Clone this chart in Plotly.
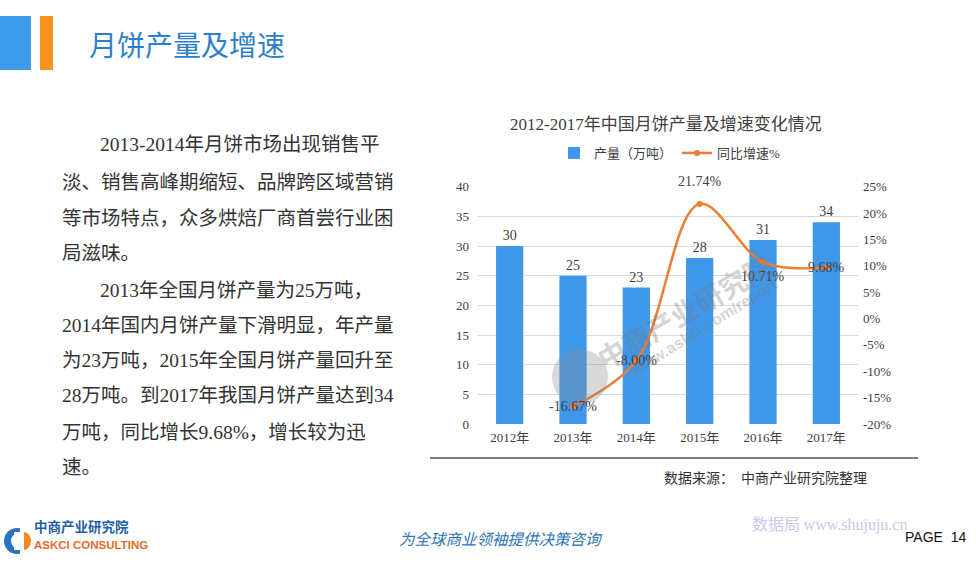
import plotly.graph_objects as go

# ---------------- data ----------------
years = ["2012年", "2013年", "2014年", "2015年", "2016年", "2017年"]
output = [30, 25, 23, 28, 31, 34]                 # 产量（万吨）
growth_years = ["2013年", "2014年", "2015年", "2016年", "2017年"]
growth = [-16.67, -8.00, 21.74, 10.71, 9.68]      # 同比增速%
left_ticks = [0, 5, 10, 15, 20, 25, 30, 35, 40]
right_ticks = [-20, -15, -10, -5, 0, 5, 10, 15, 20, 25]

paragraph = [
    "2013-2014年月饼市场出现销售平",
    "淡、销售高峰期缩短、品牌跨区域营销",
    "等市场特点，众多烘焙厂商首尝行业困",
    "局滋味。",
    "2013年全国月饼产量为25万吨，",
    "2014年国内月饼产量下滑明显，年产量",
    "为23万吨，2015年全国月饼产量回升至",
    "28万吨。到2017年我国月饼产量达到34",
    "万吨，同比增长9.68%，增长较为迅",
    "速。",
]

# ---------------- style ----------------
W, H = 976, 563
def px(x): return x / W
def py(y): return 1 - y / H

BLUE = "#3F97EA"
ORANGE = "#ED7D31"
FONT = "Liberation Serif, Noto Sans CJK SC"
CJK = "Noto Sans CJK SC"

fig = go.Figure()
fig.add_trace(go.Bar(
    x=years, y=output, name="产量（万吨）",
    marker=dict(color=BLUE, line=dict(width=0)),
    text=[str(v) for v in output], textposition="outside",
    textfont=dict(family=FONT, size=14, color="#404040"),
    cliponaxis=False,
))
fig.add_trace(go.Scatter(
    x=growth_years, y=growth, yaxis="y2", name="同比增速%",
    mode="lines+markers",
    line=dict(color=ORANGE, width=2.5, shape="spline", smoothing=1.0),
    marker=dict(color=ORANGE, size=6),
    cliponaxis=False,
))

# line data labels via the y2 scale
label_shift = [0, 0, 22, -14, 0]
annotations = []
for xv, yv, sh in zip(growth_years, growth, label_shift):
    annotations.append(dict(
        x=xv, y=yv, xref="x", yref="y2", text=f"{yv:.2f}%", showarrow=False,
        xanchor="center", yshift=sh, font=dict(family=FONT, size=14, color="#404040"),
    ))

# slide text
annotations.append(dict(x=px(87), y=py(44), xref="paper", yref="paper", xanchor="left",
                        yanchor="middle", text="月饼产量及增速", showarrow=False,
                        font=dict(family=CJK, size=28, color="#2C7FCB")))
line_y = [145, 182, 218, 253, 290, 325, 360, 395, 432, 467]
line_x = [98, 60, 60, 60, 98, 60, 60, 60, 60, 60]
for t, yy, xx in zip(paragraph, line_y, line_x):
    annotations.append(dict(x=px(xx), y=py(yy), xref="paper", yref="paper", xanchor="left",
                            yanchor="middle", text=t, showarrow=False,
                            font=dict(family=FONT, size=19.5, color="#333333")))

annotations.append(dict(x=px(666), y=py(124), xref="paper", yref="paper", xanchor="center",
                        yanchor="middle", text="2012-2017年中国月饼产量及增速变化情况",
                        showarrow=False, font=dict(family=FONT, size=17, color="#404040")))
annotations.append(dict(x=px(765), y=py(478), xref="paper", yref="paper", xanchor="center",
                        yanchor="middle", text="数据来源：  中商产业研究院整理",
                        showarrow=False, font=dict(family=FONT, size=14, color="#333333")))
# watermark
annotations.append(dict(x=px(684), y=py(311), xref="paper", yref="paper", xanchor="center",
                        yanchor="middle", text="<b>中商产业研究院</b>",
                        showarrow=False, textangle=-30,
                        font=dict(family=CJK, size=28, color="rgba(120,120,120,0.33)")))
annotations.append(dict(x=px(703), y=py(327), xref="paper", yref="paper", xanchor="center",
                        yanchor="middle", text="<b>www.askci.com/report</b>",
                        showarrow=False, textangle=-32,
                        font=dict(family="Liberation Sans", size=16, color="rgba(120,120,120,0.33)")))
# footer
annotations.append(dict(x=px(32), y=py(538), xref="paper", yref="paper", xanchor="left",
                        text="<b>中商产业研究院</b>", showarrow=False,
                        font=dict(family=CJK, size=13.5, color="#1E5FA8")))
annotations.append(dict(x=px(32), y=py(553), xref="paper", yref="paper", xanchor="left",
                        text="<b>ASKCI CONSULTING</b>", showarrow=False,
                        font=dict(family="Liberation Sans Narrow, Liberation Sans", size=11.5, color="#E46C2B")))
annotations.append(dict(x=px(501), y=py(551), xref="paper", yref="paper", xanchor="center",
                        text="<i>为全球商业领袖提供决策咨询</i>", showarrow=False,
                        font=dict(family=CJK, size=15.5, color="#2E75B6")))
annotations.append(dict(x=px(750), y=py(537), xref="paper", yref="paper", xanchor="left",
                        text="数据局 <span style='font-family:Liberation Serif'>www.shujuju.cn</span>",
                        showarrow=False, font=dict(family=CJK, size=16, color="#C9C9EC")))
annotations.append(dict(x=px(903), y=py(547), xref="paper", yref="paper", xanchor="left",
                        text="PAGE  14", showarrow=False,
                        font=dict(family="Liberation Sans Narrow, Liberation Sans", size=14, color="#111111")))

shapes = [
    dict(type="rect", xref="paper", yref="paper", x0=px(0), x1=px(31), y0=py(70), y1=py(16),
         fillcolor="#3D9BE9", line=dict(width=0)),
    dict(type="rect", xref="paper", yref="paper", x0=px(40), x1=px(53), y0=py(70), y1=py(16),
         fillcolor="#F7941D", line=dict(width=0)),
    dict(type="line", xref="paper", yref="paper", x0=px(430), x1=px(918), y0=py(458), y1=py(458),
         line=dict(color="#44546A", width=1.5)),
    # watermark logo
    dict(type="circle", xref="paper", yref="paper", x0=px(552), x1=px(608), y0=py(405), y1=py(349),
         fillcolor="rgba(140,140,140,0.33)", line=dict(width=0), layer="above"),
    # footer logo
    dict(type="circle", xref="paper", yref="paper", x0=px(4), x1=px(30), y0=py(554), y1=py(528),
         fillcolor="#2A73C4", line=dict(width=0)),
    dict(type="circle", xref="paper", yref="paper", x0=px(11), x1=px(27), y0=py(549), y1=py(533),
         fillcolor="white", line=dict(width=0)),
    dict(type="rect", xref="paper", yref="paper", x0=px(20), x1=px(30), y0=py(554), y1=py(528),
         fillcolor="white", line=dict(width=0)),
    dict(type="circle", xref="paper", yref="paper", x0=px(17), x1=px(31), y0=py(550), y1=py(532),
         fillcolor="#F08A24", line=dict(width=0)),
    dict(type="rect", xref="paper", yref="paper", x0=px(14), x1=px(24), y0=py(550), y1=py(532),
         fillcolor="white", line=dict(width=0)),
]

fig.update_layout(
    width=W, height=H, margin=dict(l=0, r=0, t=0, b=0, autoexpand=False),
    paper_bgcolor="white", plot_bgcolor="white",
    bargap=0.57, showlegend=True,
    legend=dict(orientation="h", x=px(670), xanchor="center", y=py(153), yanchor="middle",
                font=dict(family=FONT, size=13, color="#404040"), bgcolor="rgba(0,0,0,0)",
                itemwidth=30, tracegroupgap=0),
    xaxis=dict(domain=[px(478), px(858)], showgrid=False, zeroline=False, showline=False,
               ticks="", tickfont=dict(family=FONT, size=13, color="#404040"),
               ticklabelstandoff=4, automargin=False),
    yaxis=dict(domain=[py(424), py(186.7)], range=[0, 40], tickvals=left_ticks,
               showgrid=True, gridcolor="#D9D9D9", gridwidth=1, zeroline=False, showline=False,
               ticks="", tickfont=dict(family=FONT, size=13, color="#404040"),
               ticklabelstandoff=8, automargin=False),
    yaxis2=dict(overlaying="y", side="right", range=[-20, 25], tickvals=right_ticks,
                ticktext=[f"{v}%" for v in right_ticks],
                showgrid=False, zeroline=False, showline=False, ticks="",
                tickfont=dict(family=FONT, size=13, color="#404040"), ticklabelstandoff=4,
                automargin=False),
    annotations=annotations, shapes=shapes,
)

fig.write_html("out.html", config={"displayModeBar": False},
               post_script="document.body.style.margin='0';document.body.style.overflow='hidden';")
